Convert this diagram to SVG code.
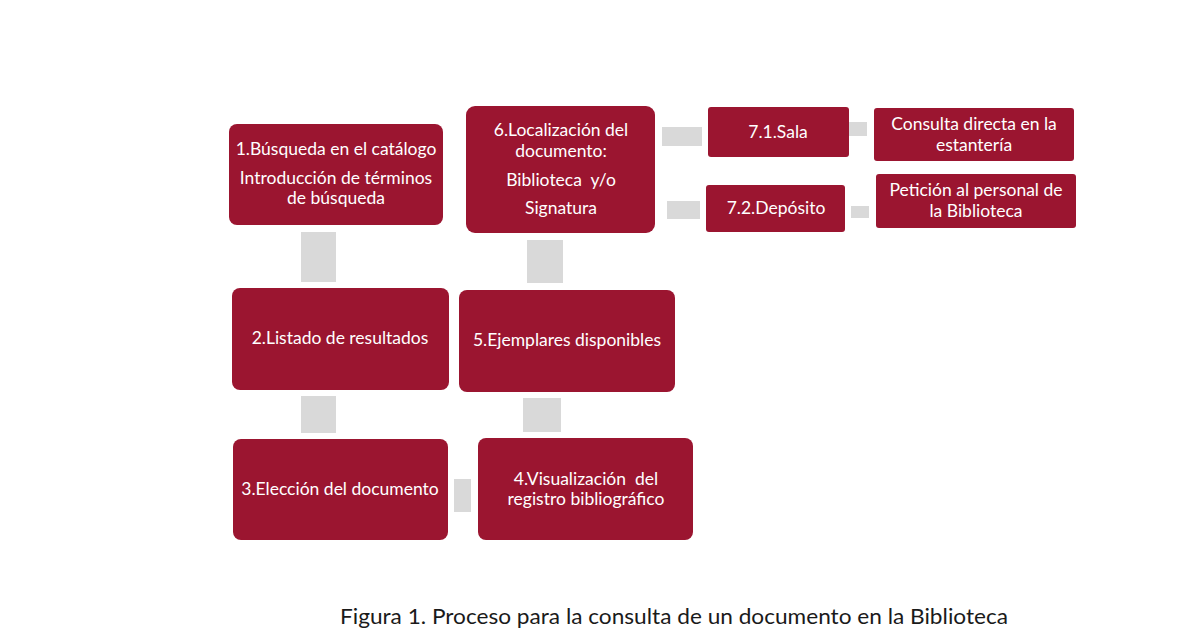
<svg xmlns="http://www.w3.org/2000/svg" width="1200" height="643" viewBox="0 0 1200 643">
<style>
.n{fill:#9b1530}
.c{fill:#d9d9d9}
.t{font-family:Lato,"Open Sans","Liberation Sans",sans-serif;font-size:17.5px;fill:#ffffff;text-anchor:middle}
.s{font-size:17.5px}
.cap{font-family:Lato,"Open Sans","Liberation Sans",sans-serif;font-size:21px;fill:#1a1a1a}
</style>
<rect width="1200" height="643" fill="#ffffff"/>
<g id="connectors">
<rect class="c" x="301" y="232" width="35" height="50"/>
<rect class="c" x="301" y="396" width="35" height="37"/>
<rect class="c" x="454" y="479" width="17" height="33"/>
<rect class="c" x="523" y="398" width="38" height="34"/>
<rect class="c" x="527" y="240" width="36" height="43"/>
<rect class="c" x="662" y="127" width="40" height="19"/>
<rect class="c" x="667" y="201" width="33" height="18"/>
<rect class="c" x="849" y="122" width="18" height="14"/>
<rect class="c" x="851" y="206" width="18" height="12"/>
</g>
<g id="n1">
<rect class="n" x="229" y="124" width="214" height="101" rx="8"/>
<text class="t" x="336" y="155">1.Búsqueda en el catálogo</text>
<text class="t" x="336" y="184">Introducción de términos</text>
<text class="t" x="336" y="204">de búsqueda</text>
</g>
<g id="n2">
<rect class="n" x="232" y="288" width="217" height="102" rx="8"/>
<text class="t" x="340" y="344">2.Listado de resultados</text>
</g>
<g id="n3">
<rect class="n" x="233" y="439" width="215" height="101" rx="8"/>
<text class="t" x="340" y="495">3.Elección del documento</text>
</g>
<g id="n4">
<rect class="n" x="478" y="438" width="215" height="102" rx="8"/>
<text class="t" x="586" y="485" xml:space="preserve">4.Visualización  del</text>
<text class="t" x="586" y="505">registro bibliográfico</text>
</g>
<g id="n5">
<rect class="n" x="459" y="290" width="216" height="102" rx="8"/>
<text class="t" x="567" y="346">5.Ejemplares disponibles</text>
</g>
<g id="n6">
<rect class="n" x="466" y="106" width="189" height="127" rx="9"/>
<text class="t" x="561" y="136">6.Localización del</text>
<text class="t" x="561" y="157">documento:</text>
<text class="t" x="561" y="186" xml:space="preserve">Biblioteca  y/o</text>
<text class="t" x="561" y="214">Signatura</text>
</g>
<g id="n71">
<rect class="n" x="708" y="107" width="141" height="50" rx="3"/>
<text class="t" x="778" y="138">7.1.Sala</text>
</g>
<g id="n71a">
<rect class="n" x="874" y="108" width="200" height="53" rx="3"/>
<text class="t s" x="974" y="130">Consulta directa en la</text>
<text class="t s" x="974" y="151">estantería</text>
</g>
<g id="n72">
<rect class="n" x="706" y="185" width="139" height="47" rx="3"/>
<text class="t" x="776" y="214">7.2.Depósito</text>
</g>
<g id="n72a">
<rect class="n" x="876" y="174" width="200" height="54" rx="3"/>
<text class="t s" x="976" y="196">Petición al personal de</text>
<text class="t s" x="976" y="217">la Biblioteca</text>
</g>
<text class="cap" x="340" y="624" textLength="668" lengthAdjust="spacingAndGlyphs">Figura 1. Proceso para la consulta de un documento en la Biblioteca</text>
</svg>
